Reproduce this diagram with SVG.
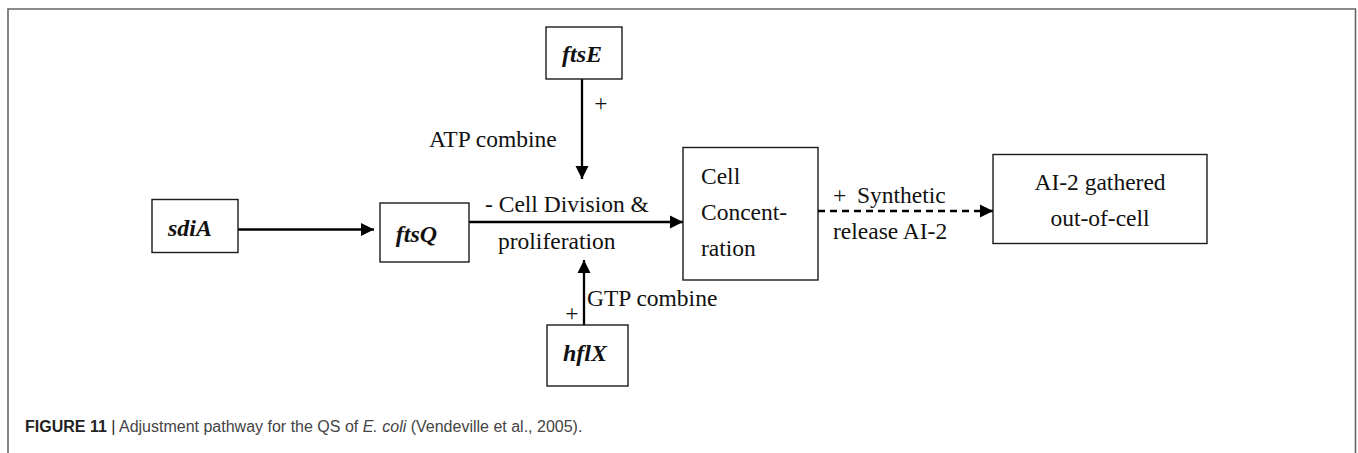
<svg xmlns="http://www.w3.org/2000/svg" width="1358" height="453" viewBox="0 0 1358 453">
<style>
.box{fill:#fff;stroke:#1a1a1a;stroke-width:1.4}
.lbl{font-family:"Liberation Serif","Times New Roman",serif;font-size:23.5px;fill:#111}
.gene{font-family:"Liberation Serif","Times New Roman",serif;font-size:24px;font-weight:bold;font-style:italic;fill:#111}
.edge{stroke:#000;stroke-width:2.3;fill:none}
.cap{font-family:"Liberation Sans",Arial,sans-serif;font-size:16px;fill:#444}
</style>
<defs>
<marker id="ah" viewBox="0 0 10 10" refX="10" refY="5" markerWidth="13" markerHeight="14" markerUnits="userSpaceOnUse" orient="auto">
<path d="M0,0 L10,5 L0,10 Z" fill="#000"/>
</marker>
</defs>
<rect x="0" y="0" width="1358" height="453" fill="#fff"/>
<path d="M8,453 V9 H1355.5 V453" fill="none" stroke="#666" stroke-width="1.6"/>

<g id="connectors">
<line class="edge" x1="238" y1="229.5" x2="374" y2="229.5" marker-end="url(#ah)"/>
<line class="edge" x1="469" y1="222" x2="683" y2="222" marker-end="url(#ah)"/>
<line class="edge" x1="582" y1="79" x2="582" y2="179" marker-end="url(#ah)"/>
<line class="edge" x1="584" y1="325" x2="584" y2="260" marker-end="url(#ah)"/>
<line class="edge" x1="818" y1="211" x2="993" y2="211" stroke-dasharray="7,5" marker-end="url(#ah)"/>
<text class="lbl" x="601" y="111" text-anchor="middle">+</text>
<text class="lbl" x="429" y="147">ATP combine</text>
<text class="lbl" x="485" y="212">- Cell Division &amp;</text>
<text class="lbl" x="498" y="249">proliferation</text>
<text class="lbl" x="587" y="306">GTP combine</text>
<text class="lbl" x="572" y="321" text-anchor="middle">+</text>
<text class="lbl" y="203"><tspan x="833">+</tspan><tspan x="857">Synthetic</tspan></text>
<text class="lbl" x="833" y="238.5">release AI-2</text>
</g>

<g id="ftsE">
<rect class="box" x="546" y="27" width="76" height="52"/>
<text class="gene" x="582" y="62" text-anchor="middle">ftsE</text>
</g>
<g id="sdiA">
<rect class="box" x="152" y="199.5" width="86" height="53"/>
<text class="gene" x="190" y="235.5" text-anchor="middle">sdiA</text>
</g>
<g id="ftsQ">
<rect class="box" x="380" y="203" width="89" height="59"/>
<text class="gene" x="416.5" y="241.5" text-anchor="middle">ftsQ</text>
</g>
<g id="hflX">
<rect class="box" x="547" y="325" width="81" height="61"/>
<text class="gene" x="585" y="361" text-anchor="middle">hflX</text>
</g>
<g id="cellConcentration">
<rect class="box" x="683" y="147.5" width="135" height="132.5"/>
<text class="lbl" x="701" y="183.5">Cell</text>
<text class="lbl" x="701" y="220">Concent-</text>
<text class="lbl" x="701" y="255.5">ration</text>
</g>
<g id="ai2">
<rect class="box" x="993" y="154.5" width="214" height="89"/>
<text class="lbl" x="1100" y="190" text-anchor="middle">AI-2 gathered</text>
<text class="lbl" x="1100" y="226" text-anchor="middle">out-of-cell</text>
</g>

<text class="cap" x="25" y="432"><tspan font-weight="bold" fill="#222">FIGURE 11</tspan> <tspan fill="#222">|</tspan> Adjustment pathway for the QS of <tspan font-style="italic">E. coli</tspan> (Vendeville et al., 2005).</text>
</svg>
